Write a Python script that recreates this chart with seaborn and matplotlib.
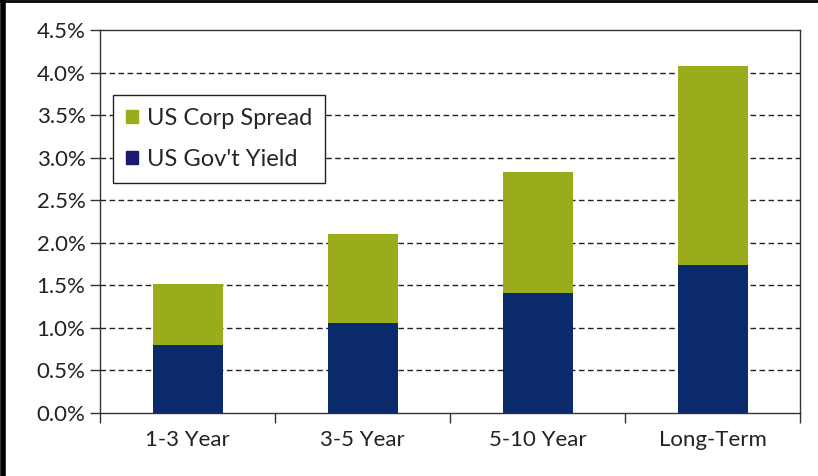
import matplotlib
matplotlib.use("Agg")
import matplotlib.pyplot as plt
from matplotlib.lines import Line2D
from matplotlib.patches import Patch
from matplotlib.ticker import FixedLocator, PercentFormatter
import seaborn as sns
import pandas as pd

# values (percent)
categories = ["1-3 Year", "3-5 Year", "5-10 Year", "Long-Term"]
gov_yield = [0.80, 1.06, 1.41, 1.74]
corp_spread = [0.71, 1.04, 1.42, 2.34]
y_ticks = [0.0, 0.5, 1.0, 1.5, 2.0, 2.5, 3.0, 3.5, 4.0, 4.5]

GREEN = "#9aac1c"
NAVY = "#0b2a6b"

sns.set_style("white")
plt.rcParams["font.family"] = ["Lato", "DejaVu Sans"]

df = pd.DataFrame({
    "bucket": categories,
    "gov": gov_yield,
    "total": [g + s for g, s in zip(gov_yield, corp_spread)],
})

fig = plt.figure(figsize=(8.18, 4.76), dpi=100)
ax = fig.add_axes([100 / 818, 1 - 413 / 476, 700 / 818, 383 / 476])

sns.barplot(data=df, x="bucket", y="total", color=GREEN, width=0.4,
            saturation=1, linewidth=0, ax=ax, zorder=3)
sns.barplot(data=df, x="bucket", y="gov", color=NAVY, width=0.4,
            saturation=1, linewidth=0, ax=ax, zorder=3)

ax.set_xlim(-0.5, 3.5)
ax.set_ylim(0, 4.5)
ax.set_xlabel("")
ax.set_ylabel("")

ax.yaxis.set_major_locator(FixedLocator(y_ticks))
ax.yaxis.set_major_formatter(PercentFormatter(decimals=1))
ax.tick_params(axis="y", which="major", direction="out", length=7, width=1,
               color="#333333", labelsize=16, labelcolor="#222222", left=True)

# category separators as x ticks
ax.xaxis.set_minor_locator(FixedLocator([-0.5, 0.5, 1.5, 2.5, 3.5]))
ax.tick_params(axis="x", which="major", length=0, labelsize=16,
               labelcolor="#222222", pad=12)
ax.tick_params(axis="x", which="minor", direction="out", length=7, width=1,
               color="#333333", bottom=True)

for y in y_ticks[1:-1]:
    ax.axhline(y, color="#222222", linestyle=(0, (4, 2.5)), linewidth=1, zorder=1)

for side in ax.spines.values():
    side.set_visible(True)
    side.set_color("#333333")
    side.set_linewidth(1)

handles = [Patch(facecolor=GREEN, edgecolor=GREEN, label="US Corp Spread"),
           Patch(facecolor="#1a1a6e", edgecolor="#1a1a6e", label="US Gov't Yield")]
leg = ax.legend(handles=handles, loc="upper left", bbox_to_anchor=(13 / 700, 318 / 383),
                frameon=True, fancybox=False, fontsize=17, handlelength=0.5,
                handleheight=0.5, handletextpad=0.4, labelspacing=0.85,
                borderpad=0.55, borderaxespad=0, framealpha=1)
leg.get_frame().set_edgecolor("#222222")
leg.get_frame().set_linewidth(1)

# outer frame on left and top edges
fig.add_artist(Line2D([2.5 / 818, 2.5 / 818], [0, 1], color="black", linewidth=4))
fig.add_artist(Line2D([0, 1], [1 - 1 / 476, 1 - 1 / 476], color="black", linewidth=2))

fig.savefig("out.png", dpi=100)
